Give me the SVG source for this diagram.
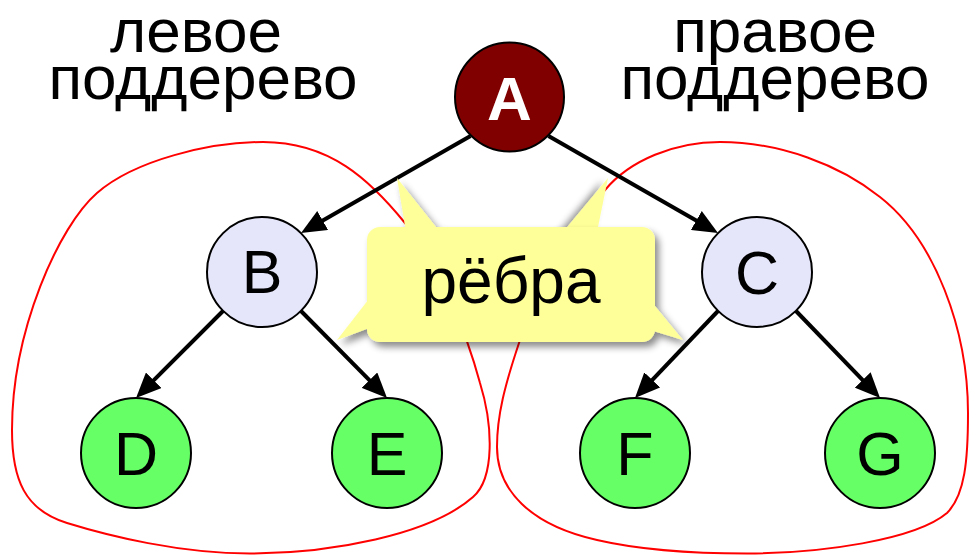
<svg xmlns="http://www.w3.org/2000/svg" width="970" height="555" viewBox="0 0 970 555">
<style>
.lbl{font-family:"Liberation Sans",Arial,sans-serif;fill:#000}
.head{font-size:62px;text-anchor:middle}
.nt{font-size:61px;text-anchor:middle}
.edge{stroke:#000;stroke-width:4;fill:none;marker-end:url(#arr)}
.node{stroke:#000;stroke-width:2}
.inner{fill:#E6E6FA}
.leaf{fill:#66FF66}
.sub{fill:none;stroke:#FF0000;stroke-width:2}
.call{fill:#FFFF99}
</style>
<defs>
<marker id="arr" markerUnits="userSpaceOnUse" markerWidth="25" markerHeight="22" refX="15" refY="11" orient="auto">
<path d="M0,0 L25,11 L0,22 z" fill="#000"/>
</marker>
<filter id="shR" x="-20%" y="-20%" width="140%" height="150%">
<feDropShadow dx="4" dy="5" stdDeviation="3.5" flood-color="#000" flood-opacity="0.45"/>
</filter>
<filter id="shL" x="-50%" y="-20%" width="200%" height="150%">
<feDropShadow dx="-6" dy="3" stdDeviation="3.5" flood-color="#000" flood-opacity="0.45"/>
</filter>
</defs>

<g id="headings" class="lbl head">
<text x="196" y="52">левое</text>
<text x="203" y="99">поддерево</text>
<text x="775" y="52">правое</text>
<text x="775" y="99">поддерево</text>
</g>

<g id="subtrees">
<path class="sub" d="M263,142 C210,142 135,160 97,193 C59,226 12,330 12,430 C12,480 25,510 67,523 C109,536 180,553.5 250,553.5 C330,553.5 430,535 473,497 C495,478 493,425 480,383 C467,335 440,265 405,223 C370,180 330,142 263,142 Z"/>
<path class="sub" d="M720,142 C675,142 630,160 605,190 C580,220 540,280 519,343 C505,385 497,415 497,447 C497,490 530,525 597,540 C640,550 700,553.5 747,553.5 C820,553.5 915,540 947,513 C965,495 968,460 968,413 C968,330 935,240 880,197 C840,165 780,142 720,142 Z"/>
</g>

<g id="connectors">
<line class="edge" x1="470.5" y1="136" x2="309.7" y2="228"/>
<line class="edge" x1="548.5" y1="136" x2="709.3" y2="228"/>
<line class="edge" x1="223" y1="311" x2="143.1" y2="390.9"/>
<line class="edge" x1="301" y1="311" x2="380" y2="390.9"/>
<line class="edge" x1="718" y1="311" x2="641.9" y2="390.8"/>
<line class="edge" x1="796" y1="311" x2="873.1" y2="390.8"/>
</g>

<g id="node-A">
<circle class="node" cx="509.5" cy="97" r="54.5" fill="#800000"/>
<text class="lbl nt" x="509.5" y="120" style="fill:#fff;font-weight:bold;font-size:62px">A</text>
</g>
<g id="node-B">
<circle class="node inner" cx="262" cy="272" r="55"/>
<text class="lbl nt" x="262" y="293">B</text>
</g>
<g id="node-C">
<circle class="node inner" cx="757" cy="272" r="55"/>
<text class="lbl nt" x="757" y="294">C</text>
</g>
<g id="node-D">
<circle class="node leaf" cx="136" cy="453" r="55"/>
<text class="lbl nt" x="136" y="475">D</text>
</g>
<g id="node-E">
<circle class="node leaf" cx="387" cy="453" r="55"/>
<text class="lbl nt" x="387" y="475">E</text>
</g>
<g id="node-F">
<circle class="node leaf" cx="635" cy="453" r="55"/>
<text class="lbl nt" x="635" y="475">F</text>
</g>
<g id="node-G">
<circle class="node leaf" cx="880" cy="453" r="55"/>
<text class="lbl nt" x="880" y="475">G</text>
</g>

<g id="callout">
<polygon class="call" filter="url(#shL)" points="608,178 563,232 597,232"/>
<g filter="url(#shR)">
<polygon class="call" points="397,178 406,232 440,232"/>
<polygon class="call" points="337,340 372,295 372,327"/>
<polygon class="call" points="683,340 650,300 650,330"/>
<rect class="call" x="367" y="227" width="288" height="115" rx="13"/>
</g>
<text class="lbl" x="511" y="303" text-anchor="middle" font-size="64">рёбра</text>
</g>
</svg>
